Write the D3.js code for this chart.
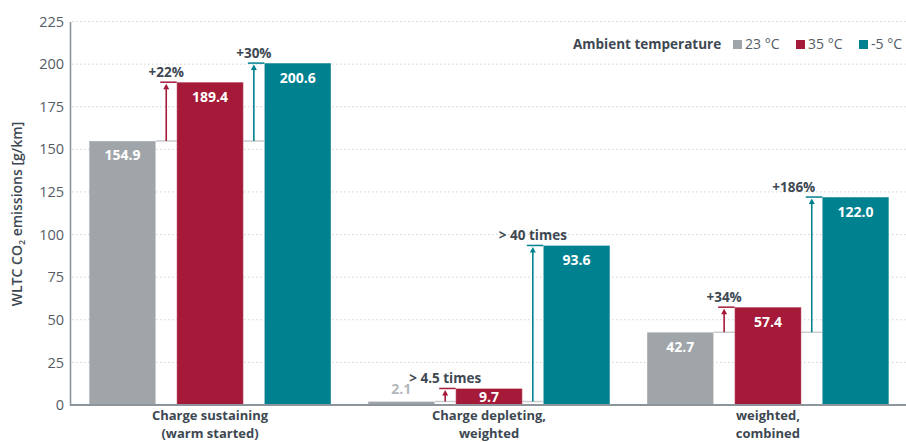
<!DOCTYPE html>
<html><head><meta charset="utf-8">
<script src="https://cdn.jsdelivr.net/npm/d3@7"></script>
<style>
html,body{margin:0;padding:0;background:#fff;}
svg{display:block;font-family:"Open Sans","Lato",sans-serif;}
</style></head>
<body>
<svg id="c" width="906" height="442"></svg>
<script>
const categories = [["Charge sustaining","(warm started)"],["Charge depleting,","weighted"],["weighted,","combined"]];
const seriesNames = ["23 °C","35 °C","-5 °C"];
const values23 = [154.9, 2.1, 42.7];
const values35 = [189.4, 9.7, 57.4];
const valuesM5 = [200.6, 93.6, 122.0];
const notes35 = ["+22%", "> 4.5 times", "+34%"];
const notesM5 = ["+30%", "> 40 times", "+186%"];
const yTicks = [0,25,50,75,100,125,150,175,200,225];
const legendTitle = "Ambient temperature";

const colors = ["#a0a5aa","#a51a38","#00818f"];
const textDark = "#3d4852";
const svg = d3.select("#c");
const y = d3.scaleLinear().domain([0,225]).range([405,21.5]);
const x0 = d3.scaleBand().domain(d3.range(categories.length)).range([71,907]).paddingInner(0.133).paddingOuter(0.065);
const x1 = d3.scaleBand().domain(d3.range(seriesNames.length)).range([0,x0.bandwidth()]).paddingInner(0.24);
const seriesVals = [values23, values35, valuesM5];
const notes = [null, notes35, notesM5];

// gridlines
svg.append("g").selectAll("line").data(yTicks.filter(d=>d>0)).join("line")
  .attr("x1",72).attr("x2",906).attr("y1",d=>y(d)).attr("y2",d=>y(d))
  .attr("stroke","#cfd2d5").attr("stroke-width",1).attr("stroke-dasharray","1.5,2.5");

// y axis
const yAxis = d3.axisLeft(y).tickValues(yTicks).tickSize(0).tickPadding(6);
const ga = svg.append("g").attr("transform","translate(70,0)").call(yAxis);
ga.select(".domain").attr("stroke","#8d949a").attr("stroke-width",1.6);
ga.selectAll("text").attr("font-size",14.5).attr("fill","#545d66").attr("font-family","'Open Sans',sans-serif").attr("font-weight",500);

// y label
svg.append("text").attr("transform","translate(22,214) rotate(-90)").attr("text-anchor","middle")
  .attr("font-size",14).attr("font-weight",600).attr("fill",textDark)
  .call(t=>{t.append("tspan").text("WLTC CO");t.append("tspan").attr("font-size",9).attr("dy",3).text("2");t.append("tspan").attr("dy",-3).text(" emissions [g/km]");});

const groups = svg.append("g").selectAll("g").data(d3.range(categories.length)).join("g")
  .attr("transform",i=>`translate(${x0(i)},0)`);

// reference lines at 23°C level through gaps
groups.each(function(i){
  const g = d3.select(this);
  const ref = y(values23[i]);
  g.append("line").attr("x1",x1(0)+x1.bandwidth()).attr("x2",x1(2)).attr("y1",ref).attr("y2",ref)
    .attr("stroke","#c9cdd0").attr("stroke-width",1.5);
});

// bars
seriesVals.forEach((vals,s)=>{
  groups.append("rect")
    .attr("x",x1(s)).attr("width",x1.bandwidth())
    .attr("y",i=>y(vals[i])).attr("height",i=>y(0)-y(vals[i]))
    .attr("fill",colors[s]).attr("stroke","#ffffff").attr("stroke-opacity",0.35).attr("stroke-width",1);
});

// annotations: arrows
[1,2].forEach(s=>{
  groups.each(function(i){
    const g = d3.select(this);
    const gapL = x1(s-1)+x1.bandwidth(), gapR = x1(s);
    const ax = (gapL+gapR)/2;
    const top = y(seriesVals[s][i]);
    const ref = y(values23[i]);
    g.append("line").attr("x1",ax-6).attr("x2",gapR).attr("y1",top).attr("y2",top)
      .attr("stroke",colors[s]).attr("stroke-width",1.5);
    g.append("line").attr("x1",ax).attr("x2",ax).attr("y1",ref).attr("y2",top+6)
      .attr("stroke",colors[s]).attr("stroke-width",1.6);
    g.append("path").attr("d",`M${ax-3},${top+7}L${ax},${top+1.5}L${ax+3},${top+7}Z`).attr("fill",colors[s]);
    const dx = (s===2 && i===2) ? -18 : 0;
    g.append("text").attr("x",ax+dx).attr("y",top-5).attr("text-anchor","middle")
      .attr("font-size",13.5).attr("font-weight",700).attr("fill",textDark).text(notes[s][i]);
  });
});

// value labels
seriesVals.forEach((vals,s)=>{
  groups.append("text")
    .attr("x",x1(s)+x1.bandwidth()/2)
    .attr("y",i=>{const h=y(0)-y(vals[i]); if(h<8) return y(vals[i])-7; if(h<30) return (y(vals[i])+y(0))/2+5; return y(vals[i])+19.5;})
    .attr("text-anchor","middle").attr("font-size",14).attr("font-weight",700)
    .attr("fill",i=>(y(0)-y(vals[i])<8)?"#b3b7bb":"#ffffff")
    .text(i=>vals[i].toFixed(1));
});

// baseline
svg.append("line").attr("x1",70).attr("x2",906).attr("y1",y(0)).attr("y2",y(0)).attr("stroke","#8d949a").attr("stroke-width",1.8);

// category labels
groups.append("text").attr("x",x0.bandwidth()/2).attr("text-anchor","middle")
  .attr("font-size",13).attr("font-weight",700).attr("fill",textDark)
  .each(function(i){
    const t=d3.select(this);
    categories[i].forEach((ln,k)=>t.append("tspan").attr("x",x0.bandwidth()/2).attr("y",420+k*17.8).text(ln));
  });

// legend
const lg = svg.append("g");
lg.append("text").attr("x",573).attr("y",49).attr("font-size",13.5).attr("font-weight",700).attr("fill",textDark).text(legendTitle);
const legX = [733,796,859];
seriesNames.forEach((n,s)=>{
  lg.append("rect").attr("x",legX[s]).attr("y",40).attr("width",9).attr("height",9).attr("fill",colors[s]);
  lg.append("text").attr("x",legX[s]+12).attr("y",49).attr("font-size",14).attr("fill","#545d66").text(n);
});
</script>
</body></html>
